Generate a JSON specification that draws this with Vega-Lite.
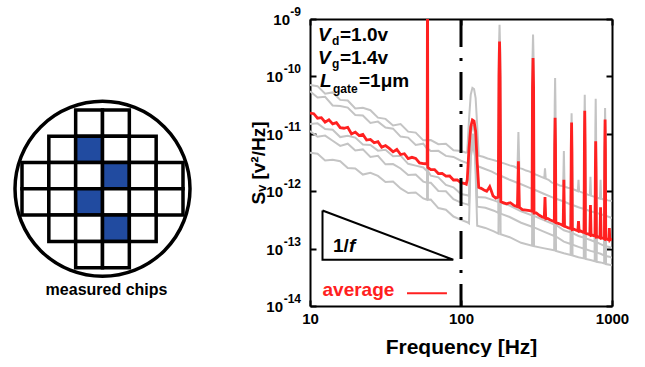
{
"$schema": "https://vega.github.io/schema/vega-lite/v6.json",
"background": "white",
"padding": {"left": 0, "top": 6, "right": 0, "bottom": 0},
"bounds": "flush",
"spacing": 105,
"config": {
  "font": "Liberation Sans",
  "view": {"stroke": null},
  "axis": {"domainColor": "black", "domainWidth": 2, "tickColor": "black", "tickWidth": 2, "tickSize": -6, "labelColor": "black", "labelFont": "Liberation Sans", "labelFontWeight": "bold", "labelFontSize": 15, "titleFont": "Liberation Sans", "titleFontWeight": "bold", "titleColor": "black", "grid": false, "labelPadding": 11, "labelOverlap": false}
},
"datasets": {
  "spectra": [
{"s":"g1","f":10,"v":7.08e-11},{"s":"g1","f":11.22,"v":6.76e-11},{"s":"g1","f":12.59,"v":5.01e-11},{"s":"g1","f":14.13,"v":5.26e-11},{"s":"g1","f":15.85,"v":3.90e-11},{"s":"g1","f":17.78,"v":3.81e-11},{"s":"g1","f":19.95,"v":2.76e-11},{"s":"g1","f":22.39,"v":2.83e-11},{"s":"g1","f":25.12,"v":2.58e-11},{"s":"g1","f":28.18,"v":1.91e-11},{"s":"g1","f":31.62,"v":1.82e-11},{"s":"g1","f":35.48,"v":1.40e-11},{"s":"g1","f":39.81,"v":1.48e-11},{"s":"g1","f":44.67,"v":1.09e-11},{"s":"g1","f":50.12,"v":1.05e-11},{"s":"g1","f":56.23,"v":7.69e-12},{"s":"g1","f":59.6,"v":7.76e-12},{"s":"g1","f":60,"v":1e-10},{"s":"g1","f":60.4,"v":7.76e-12},{"s":"g1","f":63.1,"v":7.78e-12},{"s":"g1","f":70.79,"v":6.58e-12},{"s":"g1","f":79.43,"v":6.70e-12},{"s":"g1","f":89.13,"v":5.16e-12},{"s":"g1","f":100,"v":5.01e-12},{"s":"g1","f":108,"v":4.68e-12},{"s":"g1","f":110,"v":4.79e-12},{"s":"g1","f":113,"v":1.78e-11},{"s":"g1","f":116,"v":4.79e-11},{"s":"g1","f":119,"v":6.31e-11},{"s":"g1","f":122,"v":6.03e-11},{"s":"g1","f":125,"v":4.17e-11},{"s":"g1","f":128,"v":1.41e-11},{"s":"g1","f":131,"v":4.17e-12},{"s":"g1","f":140,"v":3.98e-12},{"s":"g1","f":150,"v":3.72e-12},{"s":"g1","f":160,"v":3.55e-12},{"s":"g1","f":170,"v":3.39e-12},{"s":"g1","f":176.5,"v":3.31e-12},{"s":"g1","f":178,"v":2.51e-10},{"s":"g1","f":180,"v":7.94e-10},{"s":"g1","f":182,"v":2.51e-10},{"s":"g1","f":183.5,"v":3.16e-12},{"s":"g1","f":195,"v":3.02e-12},{"s":"g1","f":210,"v":2.82e-12},{"s":"g1","f":225,"v":2.69e-12},{"s":"g1","f":236.5,"v":2.51e-12},{"s":"g1","f":240,"v":1.07e-11},{"s":"g1","f":243.5,"v":2.51e-12},{"s":"g1","f":255,"v":2.45e-12},{"s":"g1","f":270,"v":2.29e-12},{"s":"g1","f":285,"v":2.19e-12},{"s":"g1","f":295.5,"v":2.09e-12},{"s":"g1","f":297.5,"v":2.0e-10},{"s":"g1","f":300,"v":5.37e-10},{"s":"g1","f":302.5,"v":2.0e-10},{"s":"g1","f":304.5,"v":2.0e-12},{"s":"g1","f":320,"v":1.91e-12},{"s":"g1","f":340,"v":1.78e-12},{"s":"g1","f":356,"v":1.70e-12},{"s":"g1","f":360,"v":2.51e-12},{"s":"g1","f":364,"v":1.66e-12},{"s":"g1","f":380,"v":1.58e-12},{"s":"g1","f":400,"v":1.41e-12},{"s":"g1","f":415,"v":1.38e-12},{"s":"g1","f":417.5,"v":3.16e-11},{"s":"g1","f":420,"v":9.33e-11},{"s":"g1","f":422.5,"v":3.16e-11},{"s":"g1","f":425,"v":1.35e-12},{"s":"g1","f":450,"v":1.26e-12},{"s":"g1","f":475,"v":1.23e-12},{"s":"g1","f":480,"v":5.01e-12},{"s":"g1","f":485,"v":1.20e-12},{"s":"g1","f":510,"v":1.15e-12},{"s":"g1","f":534,"v":1.12e-12},{"s":"g1","f":537,"v":7.94e-12},{"s":"g1","f":540,"v":2.29e-11},{"s":"g1","f":543,"v":7.94e-12},{"s":"g1","f":546,"v":1.10e-12},{"s":"g1","f":570,"v":1.05e-12},{"s":"g1","f":594,"v":1.0e-12},{"s":"g1","f":600,"v":1.58e-12},{"s":"g1","f":606,"v":1.0e-12},{"s":"g1","f":630,"v":9.55e-13},{"s":"g1","f":653,"v":9.33e-13},{"s":"g1","f":656.5,"v":1.58e-11},{"s":"g1","f":660,"v":4.79e-11},{"s":"g1","f":663.5,"v":1.58e-11},{"s":"g1","f":667,"v":9.12e-13},{"s":"g1","f":690,"v":8.71e-13},{"s":"g1","f":713,"v":8.51e-13},{"s":"g1","f":720,"v":1.78e-12},{"s":"g1","f":727,"v":8.32e-13},{"s":"g1","f":750,"v":8.13e-13},{"s":"g1","f":772,"v":7.94e-13},{"s":"g1","f":776,"v":1.26e-11},{"s":"g1","f":780,"v":4.07e-11},{"s":"g1","f":784,"v":1.26e-11},{"s":"g1","f":788,"v":7.76e-13},{"s":"g1","f":810,"v":7.59e-13},{"s":"g1","f":832,"v":7.41e-13},{"s":"g1","f":840,"v":1.58e-12},{"s":"g1","f":848,"v":7.41e-13},{"s":"g1","f":870,"v":7.24e-13},{"s":"g1","f":891,"v":7.08e-13},{"s":"g1","f":895.5,"v":1.0e-11},{"s":"g1","f":900,"v":2.82e-11},{"s":"g1","f":904.5,"v":1.0e-11},{"s":"g1","f":909,"v":7.08e-13},{"s":"g1","f":940,"v":6.92e-13},{"s":"g1","f":1000,"v":6.76e-13},
{"s":"g2","f":10,"v":5.50e-11},{"s":"g2","f":11.22,"v":4.28e-11},{"s":"g2","f":12.59,"v":4.40e-11},{"s":"g2","f":14.13,"v":3.12e-11},{"s":"g2","f":15.85,"v":3.05e-11},{"s":"g2","f":17.78,"v":2.86e-11},{"s":"g2","f":19.95,"v":2.13e-11},{"s":"g2","f":22.39,"v":2.08e-11},{"s":"g2","f":25.12,"v":1.55e-11},{"s":"g2","f":28.18,"v":1.63e-11},{"s":"g2","f":31.62,"v":1.29e-11},{"s":"g2","f":35.48,"v":1.23e-11},{"s":"g2","f":39.81,"v":8.95e-12},{"s":"g2","f":44.67,"v":8.59e-12},{"s":"g2","f":50.12,"v":6.40e-12},{"s":"g2","f":56.23,"v":6.73e-12},{"s":"g2","f":59.6,"v":5.50e-12},{"s":"g2","f":60,"v":1e-10},{"s":"g2","f":60.4,"v":5.50e-12},{"s":"g2","f":63.1,"v":5.00e-12},{"s":"g2","f":70.79,"v":5.04e-12},{"s":"g2","f":79.43,"v":4.12e-12},{"s":"g2","f":89.13,"v":3.95e-12},{"s":"g2","f":100,"v":3.39e-12},{"s":"g2","f":110,"v":3.09e-12},{"s":"g2","f":113,"v":3.02e-12},{"s":"g2","f":116,"v":1.0e-11},{"s":"g2","f":120,"v":1.41e-11},{"s":"g2","f":124,"v":1.0e-11},{"s":"g2","f":128,"v":2.75e-12},{"s":"g2","f":140,"v":2.51e-12},{"s":"g2","f":160,"v":2.19e-12},{"s":"g2","f":177,"v":1.91e-12},{"s":"g2","f":180,"v":3.16e-10},{"s":"g2","f":183,"v":1.86e-12},{"s":"g2","f":210,"v":1.58e-12},{"s":"g2","f":250,"v":1.32e-12},{"s":"g2","f":295.5,"v":1.10e-12},{"s":"g2","f":300,"v":1.58e-10},{"s":"g2","f":304.5,"v":1.07e-12},{"s":"g2","f":350,"v":9.12e-13},{"s":"g2","f":414,"v":7.59e-13},{"s":"g2","f":420,"v":1.58e-11},{"s":"g2","f":426,"v":7.41e-13},{"s":"g2","f":480,"v":6.61e-13},{"s":"g2","f":532,"v":5.89e-13},{"s":"g2","f":540,"v":1.26e-11},{"s":"g2","f":548,"v":5.75e-13},{"s":"g2","f":600,"v":5.25e-13},{"s":"g2","f":650,"v":4.90e-13},{"s":"g2","f":660,"v":2.0e-11},{"s":"g2","f":670,"v":4.79e-13},{"s":"g2","f":720,"v":4.47e-13},{"s":"g2","f":768,"v":4.27e-13},{"s":"g2","f":780,"v":6.31e-12},{"s":"g2","f":792,"v":4.17e-13},{"s":"g2","f":840,"v":3.98e-13},{"s":"g2","f":887,"v":3.80e-13},{"s":"g2","f":900,"v":1.41e-11},{"s":"g2","f":913,"v":3.72e-13},{"s":"g2","f":960,"v":3.55e-13},{"s":"g2","f":1000,"v":3.39e-13},
{"s":"g3","f":10,"v":1.48e-11},{"s":"g3","f":11.22,"v":1.52e-11},{"s":"g3","f":12.59,"v":1.21e-11},{"s":"g3","f":14.13,"v":1.18e-11},{"s":"g3","f":15.85,"v":8.77e-12},{"s":"g3","f":17.78,"v":9.20e-12},{"s":"g3","f":19.95,"v":8.59e-12},{"s":"g3","f":22.39,"v":6.53e-12},{"s":"g3","f":25.12,"v":6.40e-12},{"s":"g3","f":28.18,"v":5.09e-12},{"s":"g3","f":31.62,"v":5.27e-12},{"s":"g3","f":35.48,"v":4.07e-12},{"s":"g3","f":39.81,"v":4.16e-12},{"s":"g3","f":44.67,"v":3.00e-12},{"s":"g3","f":50.12,"v":2.79e-12},{"s":"g3","f":56.23,"v":2.59e-12},{"s":"g3","f":59.6,"v":2.24e-12},{"s":"g3","f":60,"v":1e-10},{"s":"g3","f":60.4,"v":2.24e-12},{"s":"g3","f":63.1,"v":1.86e-12},{"s":"g3","f":70.79,"v":1.74e-12},{"s":"g3","f":79.43,"v":1.29e-12},{"s":"g3","f":89.13,"v":1.17e-12},{"s":"g3","f":100,"v":8.91e-13},{"s":"g3","f":110,"v":8.51e-13},{"s":"g3","f":113,"v":8.32e-13},{"s":"g3","f":116,"v":6.31e-12},{"s":"g3","f":120,"v":1.0e-11},{"s":"g3","f":124,"v":6.31e-12},{"s":"g3","f":128,"v":7.94e-13},{"s":"g3","f":145,"v":7.76e-13},{"s":"g3","f":165,"v":6.92e-13},{"s":"g3","f":177,"v":6.46e-13},{"s":"g3","f":180,"v":2.51e-10},{"s":"g3","f":183,"v":6.31e-13},{"s":"g3","f":210,"v":5.62e-13},{"s":"g3","f":250,"v":4.47e-13},{"s":"g3","f":295.5,"v":3.80e-13},{"s":"g3","f":300,"v":1.26e-10},{"s":"g3","f":304.5,"v":3.72e-13},{"s":"g3","f":350,"v":3.16e-13},{"s":"g3","f":414,"v":2.63e-13},{"s":"g3","f":420,"v":1.26e-11},{"s":"g3","f":426,"v":2.57e-13},{"s":"g3","f":480,"v":2.09e-13},{"s":"g3","f":532,"v":1.91e-13},{"s":"g3","f":540,"v":1.0e-11},{"s":"g3","f":548,"v":1.86e-13},{"s":"g3","f":600,"v":1.66e-13},{"s":"g3","f":650,"v":1.55e-13},{"s":"g3","f":660,"v":1.58e-11},{"s":"g3","f":670,"v":1.51e-13},{"s":"g3","f":720,"v":1.41e-13},{"s":"g3","f":768,"v":1.32e-13},{"s":"g3","f":780,"v":5.01e-12},{"s":"g3","f":792,"v":1.29e-13},{"s":"g3","f":840,"v":1.20e-13},{"s":"g3","f":887,"v":1.12e-13},{"s":"g3","f":900,"v":1.12e-11},{"s":"g3","f":913,"v":1.10e-13},{"s":"g3","f":960,"v":1.07e-13},{"s":"g3","f":1000,"v":1.02e-13},
{"s":"g4","f":10,"v":1.12e-11},{"s":"g4","f":11.22,"v":8.91e-12},{"s":"g4","f":12.59,"v":9.31e-12},{"s":"g4","f":14.13,"v":7.57e-12},{"s":"g4","f":15.85,"v":6.15e-12},{"s":"g4","f":17.78,"v":6.73e-12},{"s":"g4","f":19.95,"v":5.11e-12},{"s":"g4","f":22.39,"v":5.35e-12},{"s":"g4","f":25.12,"v":3.96e-12},{"s":"g4","f":28.18,"v":4.14e-12},{"s":"g4","f":31.62,"v":2.94e-12},{"s":"g4","f":35.48,"v":2.97e-12},{"s":"g4","f":39.81,"v":2.49e-12},{"s":"g4","f":44.67,"v":1.91e-12},{"s":"g4","f":50.12,"v":1.96e-12},{"s":"g4","f":56.23,"v":1.47e-12},{"s":"g4","f":59.6,"v":1.41e-12},{"s":"g4","f":60,"v":1e-10},{"s":"g4","f":60.4,"v":1.41e-12},{"s":"g4","f":63.1,"v":1.40e-12},{"s":"g4","f":70.79,"v":1.01e-12},{"s":"g4","f":79.43,"v":9.95e-13},{"s":"g4","f":89.13,"v":7.23e-13},{"s":"g4","f":100,"v":6.31e-13},{"s":"g4","f":110,"v":5.89e-13},{"s":"g4","f":113,"v":5.75e-13},{"s":"g4","f":116,"v":5.01e-12},{"s":"g4","f":120,"v":7.94e-12},{"s":"g4","f":124,"v":5.01e-12},{"s":"g4","f":128,"v":5.37e-13},{"s":"g4","f":145,"v":5.13e-13},{"s":"g4","f":165,"v":4.57e-13},{"s":"g4","f":177,"v":4.17e-13},{"s":"g4","f":180,"v":2.0e-10},{"s":"g4","f":183,"v":4.07e-13},{"s":"g4","f":210,"v":3.55e-13},{"s":"g4","f":250,"v":2.82e-13},{"s":"g4","f":295.5,"v":2.40e-13},{"s":"g4","f":300,"v":1.0e-10},{"s":"g4","f":304.5,"v":2.34e-13},{"s":"g4","f":350,"v":2.0e-13},{"s":"g4","f":414,"v":1.66e-13},{"s":"g4","f":420,"v":1.0e-11},{"s":"g4","f":426,"v":1.62e-13},{"s":"g4","f":480,"v":1.32e-13},{"s":"g4","f":532,"v":1.20e-13},{"s":"g4","f":540,"v":7.94e-12},{"s":"g4","f":548,"v":1.17e-13},{"s":"g4","f":600,"v":1.07e-13},{"s":"g4","f":650,"v":1.0e-13},{"s":"g4","f":660,"v":1.26e-11},{"s":"g4","f":670,"v":9.77e-14},{"s":"g4","f":720,"v":9.12e-14},{"s":"g4","f":768,"v":8.71e-14},{"s":"g4","f":780,"v":3.98e-12},{"s":"g4","f":792,"v":8.51e-14},{"s":"g4","f":840,"v":8.13e-14},{"s":"g4","f":887,"v":7.59e-14},{"s":"g4","f":900,"v":8.91e-12},{"s":"g4","f":913,"v":7.41e-14},{"s":"g4","f":960,"v":7.24e-14},{"s":"g4","f":1000,"v":6.92e-14},
{"s":"g5","f":10,"v":4.68e-12},{"s":"g5","f":11.22,"v":4.50e-12},{"s":"g5","f":12.59,"v":3.44e-12},{"s":"g5","f":14.13,"v":3.54e-12},{"s":"g5","f":15.85,"v":3.32e-12},{"s":"g5","f":17.78,"v":2.54e-12},{"s":"g5","f":19.95,"v":2.49e-12},{"s":"g5","f":22.39,"v":1.95e-12},{"s":"g5","f":25.12,"v":2.10e-12},{"s":"g5","f":28.18,"v":1.85e-12},{"s":"g5","f":31.62,"v":1.45e-12},{"s":"g5","f":35.48,"v":1.48e-12},{"s":"g5","f":39.81,"v":1.12e-12},{"s":"g5","f":44.67,"v":9.27e-13},{"s":"g5","f":50.12,"v":9.46e-13},{"s":"g5","f":56.23,"v":7.48e-13},{"s":"g5","f":59.6,"v":7.08e-13},{"s":"g5","f":60,"v":1e-10},{"s":"g5","f":60.4,"v":7.08e-13},{"s":"g5","f":63.1,"v":7.16e-13},{"s":"g5","f":70.79,"v":5.08e-13},{"s":"g5","f":79.43,"v":4.76e-13},{"s":"g5","f":89.13,"v":3.62e-13},{"s":"g5","f":100,"v":3.16e-13},{"s":"g5","f":110,"v":2.88e-13},{"s":"g5","f":113,"v":2.75e-13},{"s":"g5","f":116,"v":3.98e-12},{"s":"g5","f":120,"v":6.31e-12},{"s":"g5","f":124,"v":3.98e-12},{"s":"g5","f":128,"v":2.51e-13},{"s":"g5","f":145,"v":2.29e-13},{"s":"g5","f":165,"v":2.0e-13},{"s":"g5","f":177,"v":1.82e-13},{"s":"g5","f":180,"v":1.58e-10},{"s":"g5","f":183,"v":1.78e-13},{"s":"g5","f":210,"v":1.58e-13},{"s":"g5","f":250,"v":1.26e-13},{"s":"g5","f":295.5,"v":1.12e-13},{"s":"g5","f":300,"v":7.94e-11},{"s":"g5","f":304.5,"v":1.10e-13},{"s":"g5","f":350,"v":1.02e-13},{"s":"g5","f":414,"v":9.33e-14},{"s":"g5","f":420,"v":7.94e-12},{"s":"g5","f":426,"v":9.12e-14},{"s":"g5","f":480,"v":8.32e-14},{"s":"g5","f":532,"v":7.76e-14},{"s":"g5","f":540,"v":6.31e-12},{"s":"g5","f":548,"v":7.59e-14},{"s":"g5","f":600,"v":7.08e-14},{"s":"g5","f":650,"v":6.76e-14},{"s":"g5","f":660,"v":1.0e-11},{"s":"g5","f":670,"v":6.61e-14},{"s":"g5","f":720,"v":6.31e-14},{"s":"g5","f":768,"v":6.03e-14},{"s":"g5","f":780,"v":3.16e-12},{"s":"g5","f":792,"v":5.89e-14},{"s":"g5","f":840,"v":5.75e-14},{"s":"g5","f":887,"v":5.50e-14},{"s":"g5","f":900,"v":7.08e-12},{"s":"g5","f":913,"v":5.37e-14},{"s":"g5","f":960,"v":5.25e-14},{"s":"g5","f":1000,"v":5.13e-14},
{"s":"avg","f":10,"v":2.29e-11},{"s":"avg","f":10.59,"v":2.24e-11},{"s":"avg","f":11.22,"v":1.87e-11},{"s":"avg","f":11.89,"v":1.91e-11},{"s":"avg","f":12.59,"v":1.60e-11},{"s":"avg","f":13.34,"v":1.75e-11},{"s":"avg","f":14.13,"v":1.49e-11},{"s":"avg","f":14.96,"v":1.57e-11},{"s":"avg","f":15.85,"v":1.28e-11},{"s":"avg","f":16.79,"v":1.25e-11},{"s":"avg","f":17.78,"v":1.30e-11},{"s":"avg","f":18.84,"v":9.95e-12},{"s":"avg","f":19.95,"v":1.07e-11},{"s":"avg","f":21.13,"v":9.33e-12},{"s":"avg","f":22.39,"v":9.77e-12},{"s":"avg","f":23.71,"v":7.78e-12},{"s":"avg","f":25.12,"v":7.98e-12},{"s":"avg","f":26.61,"v":6.97e-12},{"s":"avg","f":28.18,"v":7.29e-12},{"s":"avg","f":29.85,"v":5.81e-12},{"s":"avg","f":31.62,"v":6.24e-12},{"s":"avg","f":33.5,"v":5.57e-12},{"s":"avg","f":35.48,"v":4.85e-12},{"s":"avg","f":37.58,"v":5.33e-12},{"s":"avg","f":39.81,"v":4.35e-12},{"s":"avg","f":42.17,"v":4.50e-12},{"s":"avg","f":44.67,"v":3.71e-12},{"s":"avg","f":47.32,"v":3.89e-12},{"s":"avg","f":50.12,"v":3.72e-12},{"s":"avg","f":53.09,"v":3.10e-12},{"s":"avg","f":56.23,"v":3.03e-12},{"s":"avg","f":58.9,"v":3.01e-12},{"s":"avg","f":59.7,"v":2.95e-12},{"s":"avg","f":60,"v":1e-8},{"s":"avg","f":60.3,"v":2.6e-12},{"s":"avg","f":61.1,"v":2.51e-12},{"s":"avg","f":63.1,"v":2.37e-12},{"s":"avg","f":66.83,"v":2.38e-12},{"s":"avg","f":70.79,"v":2.03e-12},{"s":"avg","f":74.99,"v":2.04e-12},{"s":"avg","f":79.43,"v":1.83e-12},{"s":"avg","f":84.14,"v":1.84e-12},{"s":"avg","f":89.13,"v":1.57e-12},{"s":"avg","f":94.41,"v":1.58e-12},{"s":"avg","f":100,"v":1.41e-12},{"s":"avg","f":105.9,"v":1.36e-12},{"s":"avg","f":108.4,"v":1.32e-12},{"s":"avg","f":110,"v":1.58e-12},{"s":"avg","f":113,"v":5.62e-12},{"s":"avg","f":116,"v":1.32e-11},{"s":"avg","f":119,"v":1.74e-11},{"s":"avg","f":122,"v":1.66e-11},{"s":"avg","f":125,"v":1.12e-11},{"s":"avg","f":128,"v":3.16e-12},{"s":"avg","f":131,"v":1.17e-12},{"s":"avg","f":136,"v":1.12e-12},{"s":"avg","f":142,"v":1.05e-12},{"s":"avg","f":148,"v":1.0e-12},{"s":"avg","f":152,"v":1.10e-12},{"s":"avg","f":155,"v":1.20e-12},{"s":"avg","f":158,"v":1.05e-12},{"s":"avg","f":163,"v":8.3e-13},{"s":"avg","f":170,"v":7.6e-13},{"s":"avg","f":176.5,"v":7.9e-13},{"s":"avg","f":178.5,"v":1.0e-10},{"s":"avg","f":180,"v":4.07e-10},{"s":"avg","f":181.5,"v":1.0e-10},{"s":"avg","f":183.5,"v":6.61e-13},{"s":"avg","f":190,"v":6.31e-13},{"s":"avg","f":200,"v":6.03e-13},{"s":"avg","f":212,"v":6.31e-13},{"s":"avg","f":225,"v":5.62e-13},{"s":"avg","f":236.5,"v":5.37e-13},{"s":"avg","f":238.5,"v":1.58e-12},{"s":"avg","f":240,"v":3.31e-12},{"s":"avg","f":241.5,"v":1.58e-12},{"s":"avg","f":243.5,"v":5.25e-13},{"s":"avg","f":255,"v":4.79e-13},{"s":"avg","f":270,"v":4.68e-13},{"s":"avg","f":285,"v":4.57e-13},{"s":"avg","f":295.5,"v":4.47e-13},{"s":"avg","f":297.5,"v":6.31e-11},{"s":"avg","f":300,"v":2.09e-10},{"s":"avg","f":302.5,"v":6.31e-11},{"s":"avg","f":304.5,"v":4.17e-13},{"s":"avg","f":315,"v":4.2e-13},{"s":"avg","f":330,"v":3.80e-13},{"s":"avg","f":345,"v":3.55e-13},{"s":"avg","f":356,"v":3.47e-13},{"s":"avg","f":360,"v":7.94e-13},{"s":"avg","f":364,"v":3.31e-13},{"s":"avg","f":375,"v":3.35e-13},{"s":"avg","f":390,"v":3.16e-13},{"s":"avg","f":405,"v":3.02e-13},{"s":"avg","f":415,"v":2.95e-13},{"s":"avg","f":417.5,"v":6.31e-12},{"s":"avg","f":420,"v":1.91e-11},{"s":"avg","f":422.5,"v":6.31e-12},{"s":"avg","f":425,"v":2.82e-13},{"s":"avg","f":440,"v":2.75e-13},{"s":"avg","f":460,"v":2.63e-13},{"s":"avg","f":475,"v":2.51e-13},{"s":"avg","f":480,"v":1.58e-12},{"s":"avg","f":485,"v":2.45e-13},{"s":"avg","f":495,"v":2.40e-13},{"s":"avg","f":515,"v":2.29e-13},{"s":"avg","f":534,"v":2.24e-13},{"s":"avg","f":537,"v":5.01e-12},{"s":"avg","f":540,"v":1.58e-11},{"s":"avg","f":543,"v":5.01e-12},{"s":"avg","f":546,"v":2.14e-13},{"s":"avg","f":560,"v":2.18e-13},{"s":"avg","f":580,"v":2.09e-13},{"s":"avg","f":594,"v":2.04e-13},{"s":"avg","f":600,"v":3.02e-13},{"s":"avg","f":606,"v":2.0e-13},{"s":"avg","f":620,"v":2.02e-13},{"s":"avg","f":645,"v":1.91e-13},{"s":"avg","f":653,"v":1.91e-13},{"s":"avg","f":656.5,"v":6.31e-12},{"s":"avg","f":660,"v":2.51e-11},{"s":"avg","f":663.5,"v":6.31e-12},{"s":"avg","f":667,"v":1.86e-13},{"s":"avg","f":680,"v":1.82e-13},{"s":"avg","f":700,"v":1.78e-13},{"s":"avg","f":713,"v":1.74e-13},{"s":"avg","f":720,"v":5.75e-13},{"s":"avg","f":727,"v":1.70e-13},{"s":"avg","f":740,"v":1.72e-13},{"s":"avg","f":765,"v":1.66e-13},{"s":"avg","f":772,"v":1.66e-13},{"s":"avg","f":776,"v":2.51e-12},{"s":"avg","f":780,"v":7.41e-12},{"s":"avg","f":784,"v":2.51e-12},{"s":"avg","f":788,"v":1.58e-13},{"s":"avg","f":810,"v":1.60e-13},{"s":"avg","f":832,"v":1.55e-13},{"s":"avg","f":840,"v":5.25e-13},{"s":"avg","f":848,"v":1.51e-13},{"s":"avg","f":870,"v":1.53e-13},{"s":"avg","f":891,"v":1.48e-13},{"s":"avg","f":895.5,"v":5.01e-12},{"s":"avg","f":900,"v":1.78e-11},{"s":"avg","f":904.5,"v":5.01e-12},{"s":"avg","f":909,"v":1.45e-13},{"s":"avg","f":930,"v":1.47e-13},{"s":"avg","f":952,"v":1.41e-13},{"s":"avg","f":960,"v":2.29e-13},{"s":"avg","f":968,"v":1.41e-13},{"s":"avg","f":985,"v":1.45e-13},{"s":"avg","f":1000,"v":1.43e-13}
  ],
  "ann": [
    {"t": "V", "k": "it", "f": 11.3, "v": 4.14e-10},
    {"t": "d", "k": "sub", "f": 13.99, "v": 3.52e-10},
    {"t": "=1.0v", "k": "rm", "f": 15.8, "v": 4.14e-10},
    {"t": "V", "k": "it", "f": 11.3, "v": 1.64e-10},
    {"t": "g", "k": "sub", "f": 13.99, "v": 1.40e-10},
    {"t": "=1.4v", "k": "rm", "f": 15.8, "v": 1.64e-10},
    {"t": "L", "k": "it", "f": 11.64, "v": 6.53e-11},
    {"t": "gate", "k": "sub", "f": 14.2, "v": 5.14e-11},
    {"t": "=1μm", "k": "rm", "f": 21.1, "v": 6.53e-11},
    {"t": "1/", "k": "rm", "f": 14.2, "v": 8.73e-14},
    {"t": "f", "k": "it", "f": 18.1, "v": 8.73e-14}
  ],
  "yt": [
    {"v": 1e-9, "e": "-9"},
    {"v": 1e-10, "e": "-10"},
    {"v": 1e-11, "e": "-11"},
    {"v": 1e-12, "e": "-12"},
    {"v": 1e-13, "e": "-13"},
    {"v": 1e-14, "e": "-14"}
  ],
  "tri": [
    {"i": 0, "f": 12.1, "v": 4.6e-13},
    {"i": 1, "f": 12.1, "v": 6.4e-14},
    {"i": 2, "f": 88.9, "v": 6.4e-14},
    {"i": 3, "f": 12.1, "v": 4.6e-13}
  ],
  "chips": [
    {"row": 0, "col": 2, "m": "no"}, {"row": 0, "col": 3, "m": "no"},
    {"row": 1, "col": 1, "m": "no"}, {"row": 1, "col": 2, "m": "yes"}, {"row": 1, "col": 3, "m": "no"}, {"row": 1, "col": 4, "m": "no"},
    {"row": 2, "col": 0, "m": "no"}, {"row": 2, "col": 1, "m": "no"}, {"row": 2, "col": 2, "m": "no"}, {"row": 2, "col": 3, "m": "yes"}, {"row": 2, "col": 4, "m": "no"}, {"row": 2, "col": 5, "m": "no"},
    {"row": 3, "col": 0, "m": "no"}, {"row": 3, "col": 1, "m": "no"}, {"row": 3, "col": 2, "m": "yes"}, {"row": 3, "col": 3, "m": "no"}, {"row": 3, "col": 4, "m": "no"}, {"row": 3, "col": 5, "m": "no"},
    {"row": 4, "col": 1, "m": "no"}, {"row": 4, "col": 2, "m": "no"}, {"row": 4, "col": 3, "m": "yes"}, {"row": 4, "col": 4, "m": "no"},
    {"row": 5, "col": 2, "m": "no"}, {"row": 5, "col": 3, "m": "no"}
  ]
},
"hconcat": [
  {
    "width": 205, "height": 287,
    "view": {"stroke": null},
    "layer": [
      {
        "data": {"values": [{"col": 2, "row": 2}]},
        "mark": {"type": "point", "shape": "circle", "size": 30625, "filled": false, "stroke": "black", "strokeWidth": 3.5, "opacity": 1},
        "encoding": {
          "x": {"field": "col", "type": "ordinal", "bandPosition": 1, "axis": null, "scale": {"type": "band", "domain": [0,1,2,3,4,5], "paddingInner": 0, "paddingOuter": 0.82}},
          "y": {"field": "row", "type": "ordinal", "bandPosition": 1, "axis": null, "scale": {"type": "band", "domain": [-3,-2,-1,0,1,2,3,4,5,6], "paddingInner": 0, "paddingOuter": 0.455}}
        }
      },
      {
        "data": {"name": "chips"},
        "mark": {"type": "rect", "stroke": "black", "strokeWidth": 3.5},
        "encoding": {
          "x": {"field": "col", "type": "ordinal", "axis": null},
          "y": {"field": "row", "type": "ordinal", "axis": null},
          "color": {"field": "m", "type": "nominal", "scale": {"domain": ["no", "yes"], "range": ["white", "#214ba0"]}, "legend": null}
        }
      },
      {
        "data": {"values": [{"col": 3, "row": 6, "t": "measured chips"}]},
        "mark": {"type": "text", "align": "center", "baseline": "middle", "fontSize": 16, "fontWeight": "bold", "color": "black"},
        "encoding": {
          "x": {"field": "col", "type": "ordinal", "bandPosition": 0.15, "axis": null},
          "y": {"field": "row", "type": "ordinal", "bandPosition": 0.85, "axis": null},
          "text": {"field": "t"}
        }
      }
    ]
  },
  {
    "width": 302, "height": 287,
    "view": {"stroke": null},
    "resolve": {"axis": {"x": "independent", "y": "independent"}},
    "layer": [
      {
        "data": {"name": "spectra"},
        "transform": [{"filter": "datum.s != 'avg'"}],
        "mark": {"type": "line", "color": "#c4c4c4", "strokeWidth": 2, "clip": true},
        "encoding": {
          "x": {"field": "f", "type": "quantitative", "scale": {"type": "log", "domain": [10, 1000], "nice": false},
                "axis": {"orient": "bottom", "values": [10, 100, 1000], "format": "d", "labelFlush": false, "title": "Frequency [Hz]", "titleFontSize": 21, "titlePadding": 10}},
          "y": {"field": "v", "type": "quantitative", "scale": {"type": "log", "domain": [1e-14, 1e-9], "nice": false},
                "axis": {"orient": "left", "values": [1e-14, 1e-13, 1e-12, 1e-11, 1e-10, 1e-9], "labels": false, "title": "Sᵥ [v²/Hz]", "titleFontSize": 19, "titlePadding": 41}},
          "detail": {"field": "s", "type": "nominal"}
        }
      },
      {
        "data": {"name": "spectra"},
        "transform": [{"filter": "datum.s == 'avg'"}],
        "mark": {"type": "line", "color": "#ff2020", "strokeWidth": 2.8, "clip": true},
        "encoding": {
          "x": {"field": "f", "type": "quantitative", "axis": {"orient": "top", "values": [10, 100, 1000], "labels": false, "title": null}},
          "y": {"field": "v", "type": "quantitative", "axis": {"orient": "right", "values": [1e-14, 1e-13, 1e-12, 1e-11, 1e-10, 1e-9], "labels": false, "title": null}}
        }
      },
      {
        "data": {"values": [{"f": 100}]},
        "mark": {"type": "rule", "color": "black", "strokeWidth": 3, "strokeDash": [28, 11, 3, 11]},
        "encoding": {"x": {"field": "f", "type": "quantitative", "axis": null}}
      },
      {
        "data": {"name": "tri"},
        "mark": {"type": "line", "color": "black", "strokeWidth": 2},
        "encoding": {
          "x": {"field": "f", "type": "quantitative", "axis": null},
          "y": {"field": "v", "type": "quantitative", "axis": null},
          "order": {"field": "i", "type": "quantitative"}
        }
      },
      {
        "data": {"name": "yt"},
        "mark": {"type": "text", "align": "right", "baseline": "alphabetic", "fontSize": 12, "fontWeight": "bold", "color": "black", "dx": -9, "dy": -3},
        "encoding": {
          "x": {"datum": 10, "type": "quantitative", "axis": null},
          "y": {"field": "v", "type": "quantitative", "axis": null},
          "text": {"field": "e"}
        }
      },
      {
        "data": {"name": "yt"},
        "transform": [{"filter": "datum.e == '-9'"}],
        "mark": {"type": "text", "text": "10", "align": "right", "baseline": "middle", "fontSize": 15, "fontWeight": "bold", "color": "black", "dx": -20, "dy": 1},
        "encoding": {
          "x": {"datum": 10, "type": "quantitative", "axis": null},
          "y": {"field": "v", "type": "quantitative", "axis": null}
        }
      },
      {
        "data": {"name": "yt"},
        "transform": [{"filter": "datum.e != '-9'"}],
        "mark": {"type": "text", "text": "10", "align": "right", "baseline": "middle", "fontSize": 15, "fontWeight": "bold", "color": "black", "dx": -27, "dy": 1},
        "encoding": {
          "x": {"datum": 10, "type": "quantitative", "axis": null},
          "y": {"field": "v", "type": "quantitative", "axis": null}
        }
      },
      {
        "data": {"name": "ann"},
        "transform": [{"filter": "datum.k == 'rm'"}],
        "mark": {"type": "text", "align": "left", "baseline": "alphabetic", "fontSize": 19, "fontWeight": "bold", "color": "black"},
        "encoding": {
          "x": {"field": "f", "type": "quantitative", "axis": null},
          "y": {"field": "v", "type": "quantitative", "axis": null},
          "text": {"field": "t"}
        }
      },
      {
        "data": {"name": "ann"},
        "transform": [{"filter": "datum.k == 'it'"}],
        "mark": {"type": "text", "align": "left", "baseline": "alphabetic", "fontSize": 19, "fontWeight": "bold", "fontStyle": "italic", "color": "black"},
        "encoding": {
          "x": {"field": "f", "type": "quantitative", "axis": null},
          "y": {"field": "v", "type": "quantitative", "axis": null},
          "text": {"field": "t"}
        }
      },
      {
        "data": {"name": "ann"},
        "transform": [{"filter": "datum.k == 'sub'"}],
        "mark": {"type": "text", "align": "left", "baseline": "alphabetic", "fontSize": 12, "fontWeight": "bold", "color": "black"},
        "encoding": {
          "x": {"field": "f", "type": "quantitative", "axis": null},
          "y": {"field": "v", "type": "quantitative", "axis": null},
          "text": {"field": "t"}
        }
      },
      {
        "data": {"values": [{"t": "average", "f": 12.1, "v": 1.49e-14}]},
        "mark": {"type": "text", "align": "left", "baseline": "alphabetic", "fontSize": 19, "fontWeight": "bold", "color": "#ff2020"},
        "encoding": {
          "x": {"field": "f", "type": "quantitative", "axis": null},
          "y": {"field": "v", "type": "quantitative", "axis": null},
          "text": {"field": "t"}
        }
      },
      {
        "data": {"values": [{"f1": 43.9, "f2": 80.7, "v": 1.66e-14}]},
        "mark": {"type": "rule", "color": "#ff2020", "strokeWidth": 2},
        "encoding": {
          "x": {"field": "f1", "type": "quantitative", "axis": null},
          "x2": {"field": "f2"},
          "y": {"field": "v", "type": "quantitative", "axis": null}
        }
      }
    ]
  }
]
}
